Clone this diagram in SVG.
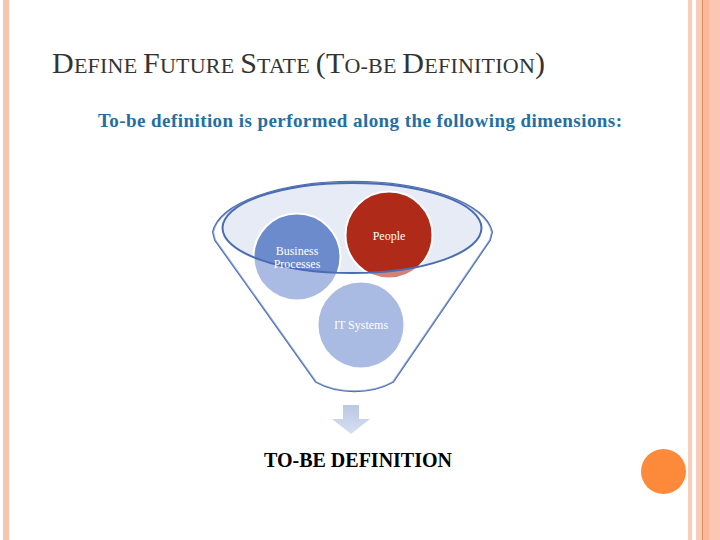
<svg xmlns="http://www.w3.org/2000/svg" width="720" height="540" viewBox="0 0 720 540">
<defs>
<style>
.serif{font-family:"Liberation Serif","Times New Roman",serif}
.lbl{font-family:"Liberation Serif","Times New Roman",serif;font-size:12px;fill:#ffffff;text-anchor:middle}
.circ{stroke:#ffffff;stroke-width:2}
.outline{fill:none;stroke:#4a6cb3;stroke-width:2}
</style>
<linearGradient id="arr" x1="0" y1="0" x2="0" y2="1">
<stop offset="0" stop-color="#b9c8e6"/>
<stop offset="1" stop-color="#d6dff1"/>
</linearGradient>
</defs>
<rect width="720" height="540" fill="#ffffff"/>
<!-- side stripes -->
<rect x="3" y="0" width="6" height="540" fill="#f9c4ae"/>
<rect x="688" y="0" width="4" height="540" fill="#f9cdb9"/>
<rect x="696" y="0" width="24" height="540" fill="#fcc6b4"/>
<rect x="696" y="0" width="6" height="540" fill="#fbcbb6"/>
<rect x="702" y="0" width="1.2" height="540" fill="#d98a5e"/>
<rect x="703.2" y="0" width="6" height="540" fill="#fbb99b"/>
<circle cx="663.5" cy="471.5" r="22.5" fill="#fd8a3b"/>
<!-- title -->
<text class="serif" font-family="Liberation Serif, serif" x="52" y="73" fill="#333333" font-size="30" textLength="493" lengthAdjust="spacing"><tspan>D</tspan><tspan font-size="22">EFINE </tspan><tspan>F</tspan><tspan font-size="22">UTURE </tspan><tspan>S</tspan><tspan font-size="22">TATE </tspan><tspan>(T</tspan><tspan font-size="22">O-BE </tspan><tspan>D</tspan><tspan font-size="22">EFINITION</tspan><tspan>)</tspan></text>
<text class="serif" font-family="Liberation Serif, serif" x="98" y="127" fill="#236ea3" font-size="19" font-weight="bold" textLength="524" lengthAdjust="spacing">To-be definition is performed along the following dimensions:</text>
<!-- funnel -->
<g id="funnel">
<path d="M215,240 L213,232 A140,55 0 0 1 492,232 L490,240 L393,382 A60,40 0 0 1 316,382 Z" fill="#ffffff" stroke="#4a6cb3" stroke-width="2"/>
<ellipse cx="352" cy="228" rx="129.5" ry="45" fill="#e6ebf6"/>
</g>
<g id="node-business">
<circle class="circ" cx="297" cy="257" r="43.5" fill="#6b8bcd"/>
</g>
<g id="node-people">
<circle class="circ" cx="389" cy="235" r="43.5" fill="#b02a1a"/>
</g>
<g id="node-it">
<circle class="circ" cx="361" cy="325" r="43.5" fill="#6b8bcd"/>
</g>
<path d="M215,240 L213,232 A140,55 0 0 1 492,232 L490,240 L393,382 A60,40 0 0 1 316,382 Z M222.5,228 A129.5,45 0 0 0 481.5,228 A129.5,45 0 0 0 222.5,228 Z" fill="#ffffff" fill-opacity="0.42" fill-rule="evenodd"/>
<ellipse class="outline" cx="352" cy="228" rx="129.5" ry="45"/>
<g font-family="Liberation Serif, serif">
<text class="lbl" x="297" y="255">Business</text>
<text class="lbl" x="297" y="268">Processes</text>
<text class="lbl" x="389" y="240">People</text>
<text class="lbl" x="361" y="329">IT Systems</text>
</g>
<g id="connectors">
<path d="M343,405 L359,405 L359,419 L370,419 L351,434 L332,419 L343,419 Z" fill="url(#arr)"/>
</g>
<text class="serif" font-family="Liberation Serif, serif" x="358" y="467" fill="#000000" font-size="20" font-weight="bold" text-anchor="middle">TO-BE DEFINITION</text>
</svg>
